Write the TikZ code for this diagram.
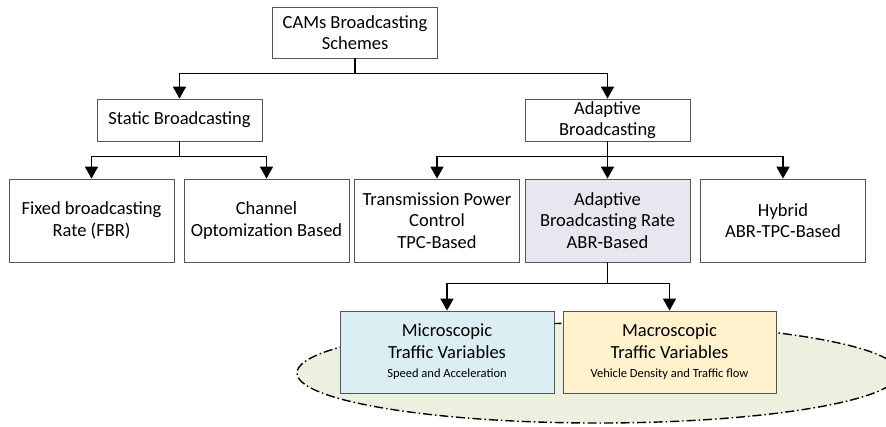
\documentclass[tikz,border=0pt]{standalone}
\usepackage{fontspec}
\setmainfont{Carlito}
\usetikzlibrary{arrows.meta}

\definecolor{boxline}{HTML}{555555}
\definecolor{abrfill}{HTML}{E8E6EF}
\definecolor{microfill}{HTML}{DAEEF3}
\definecolor{macrofill}{HTML}{FFF2CC}
\definecolor{ovalfill}{HTML}{EBF1DE}

\tikzset{
  box/.style={draw=boxline, line width=0.8pt, fill=white, align=center,
    minimum width=165pt, minimum height=83pt, inner sep=2pt,
    font=\fontsize{18.5}{21.5}\selectfont},
  arr/.style={-{Triangle[length=12pt,width=13pt]}, line width=1.6pt},
  oval/.style={draw=black, fill=ovalfill, line width=1.4pt,
    dash pattern=on 9pt off 3pt on 1.5pt off 3pt}
}

\begin{document}
\begin{tikzpicture}[x=1pt,y=-1pt]
  \useasboundingbox (0,0) rectangle (886,426);
  \clip (0,0) rectangle (886,426);

  % Raiz
  \node[box, minimum height=51pt] (root) at (355,32.5) {CAMs Broadcasting\\Schemes};

  % Segundo nivel
  \node[box, minimum height=42pt] (static) at (179.5,120) {Static Broadcasting};
  \node[box, minimum height=42pt] (adaptive) at (607.5,120) {Adaptive\\Broadcasting};

  % Tercer nivel
  \node[box] (fbr) at (91.5,220.5) {Fixed broadcasting\\Rate (FBR)};
  \node[box] (chan) at (266.5,220.5) {Channel\\Optomization Based};
  \node[box] (tpc) at (437,220.5) {Transmission Power\\Control\\TPC-Based};
  \node[box, fill=abrfill] (abr) at (607.5,220.5) {Adaptive\\Broadcasting Rate\\ABR-Based};
  \node[box] (hybrid) at (783,220.5) {Hybrid\\ABR-TPC-Based};

  % Ovalo de fondo
  \draw[oval] (598,373) ellipse [x radius=301, y radius=50];

  % Variables de trafico
  \node[box, fill=microfill, minimum width=214pt, minimum height=82pt] (micro) at (447,352)
    {Microscopic\\Traffic Variables\\[-2pt]{\fontsize{12.5}{14}\selectfont Speed and Acceleration}};
  \node[box, fill=macrofill, minimum width=213pt, minimum height=82pt] (macro) at (669.5,352)
    {Macroscopic\\Traffic Variables\\[-2pt]{\fontsize{12.5}{14}\selectfont Vehicle Density and Traffic flow}};

  % Conexiones
  \foreach \c in {static,adaptive}
    \draw[arr] (root.south) -- ++(0,15) -| (\c.north);
  \foreach \c in {fbr,chan}
    \draw[arr] (static.south) -- ++(0,15) -| (\c.north);
  \foreach \c in {tpc,abr,hybrid}
    \draw[arr] (adaptive.south) -- ++(0,15) -| (\c.north);
  \foreach \c in {micro,macro}
    \draw[arr] (abr.south) -- ++(0,21) -| (\c.north);

\end{tikzpicture}
\end{document}
